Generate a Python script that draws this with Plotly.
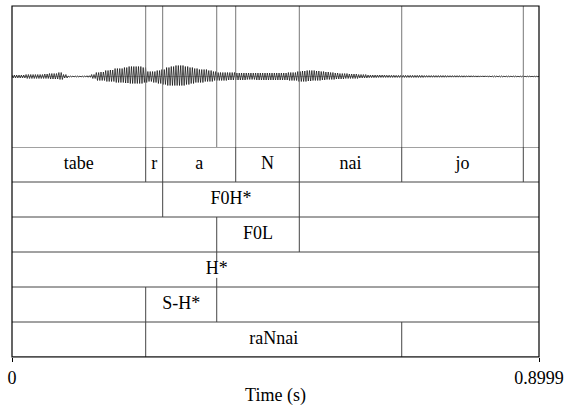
import plotly.graph_objects as go

# ---------------- data ----------------
T_END = 0.8999

# Waveform amplitude envelope (arbitrary units), sampled every 8 ms
WAVE_DT = 0.008
wave_hi = [1.5, 1.5, 1.5, 2, 2, 2, 2, 2.5, 3, 3, 4, 2, 0.5, 0.5, 0.5, 0.5, 0.8, 2, 4, 4.5,
           6, 6.5, 8, 8, 9, 10, 10, 10, 9, 5, 5, 6, 7, 9, 10, 11, 11, 10, 9, 8,
           7, 7, 6, 5, 4, 4, 4, 4, 3.5, 3.5, 3.5, 3.5, 3.5, 3.5, 3.5, 3.5, 3.5, 3.5, 3.5, 4,
           4, 5, 5.5, 6, 6, 5.5, 5, 4.5, 4, 3.5, 3, 3, 2.5, 2.5, 2, 2, 1.5, 1.5, 1.5, 1.5,
           1.3, 1.3, 1.2, 1.2, 1.2, 1.2, 1.2, 1.2, 1, 1, 1, 1, 1, 0.9, 0.9, 0.9, 0.8, 0.8, 0.8, 0.7,
           0.7, 0.7, 0.6, 0.6, 0.6, 0.5, 0.5, 0.5, 0.4, 0.4, 0.4, 0.3, 0.3]
wave_lo = [1.5, 1.5, 1.5, 2, 2, 2, 2, 2, 2.5, 2.5, 3, 1.5, 0.5, 0.5, 0.5, 0.5, 0.8, 2, 4, 4,
           5, 5, 6, 6, 6.5, 7, 7, 7, 6, 5, 6, 7, 8, 9, 9, 9, 9, 8, 7, 6,
           6, 5, 5, 4, 4, 4, 3.5, 3.5, 3.5, 3.5, 3, 3, 3.5, 3.5, 3.5, 3.5, 3.5, 3.5, 3.5, 4,
           4, 5, 5, 4.5, 4, 4, 3.5, 3, 3, 2.5, 2.5, 2, 2, 2, 1.5, 1.5, 1.2, 1.2, 1, 1,
           1, 1, 1, 1, 1, 1, 1, 1, 0.8, 0.8, 0.8, 0.8, 0.8, 0.7, 0.7, 0.7, 0.7, 0.6, 0.6, 0.6,
           0.5, 0.5, 0.5, 0.5, 0.5, 0.4, 0.4, 0.4, 0.4, 0.4, 0.3, 0.3, 0.3]
WAVE_YMAX = 70.5

# TextGrid tiers (interval tiers: boundaries + labels; point tier: times + labels)
phone_bounds = [0.0, 0.2283, 0.2573, 0.3820, 0.4906, 0.6655, 0.8731, T_END]
phone_labels = ["tabe", "r", "a", "N", "nai", "jo", ""]

f0h_bounds = [0.0, 0.2573, 0.4906, T_END]
f0h_labels = ["", "F0H*", ""]

f0l_bounds = [0.0, 0.3496, 0.4906, T_END]
f0l_labels = ["", "F0L", ""]

hstar_times = [0.3496]
hstar_labels = ["H*"]

sh_bounds = [0.0, 0.2283, 0.3496, T_END]
sh_labels = ["", "S-H*", ""]

word_bounds = [0.0, 0.2283, 0.6655, T_END]
word_labels = ["", "raNnai", ""]

tick_vals = [0, T_END]
tick_text = ["0", "0.8999"]

# ---------------- figure ----------------
FONT = "Times New Roman, Liberation Serif, serif"
FS = 18
LINE_C = "#444444"
N_TIERS = 6
TIER_FRAC = 210 / 351

fig = go.Figure()

# zero line of waveform
fig.add_trace(go.Scatter(x=[0, T_END], y=[0, 0], mode="lines",
                         line=dict(color="#999999", width=0.6),
                         xaxis="x", yaxis="y", hoverinfo="skip", showlegend=False))

# waveform drawn as dense oscillation between each sample's peak and trough
wx, wy = [], []
for i, (hi, lo) in enumerate(zip(wave_hi, wave_lo)):
    t = i * WAVE_DT
    for k in range(4):
        wx.append(t + k * WAVE_DT / 4)
        wy.append(hi if k % 2 == 0 else -lo)
fig.add_trace(go.Scatter(x=wx, y=wy, mode="lines",
                         line=dict(color="rgba(0,0,0,0.85)", width=0.8),
                         xaxis="x", yaxis="y", hoverinfo="skip", showlegend=False))

interval_tiers = [
    (0, phone_bounds, phone_labels),
    (1, f0h_bounds, f0h_labels),
    (2, f0l_bounds, f0l_labels),
    (4, sh_bounds, sh_labels),
    (5, word_bounds, word_labels),
]

# all boundaries shown through the waveform
all_b = set()
for _, b, _ in interval_tiers:
    for v in b[1:-1]:
        all_b.add(v)
for v in hstar_times:
    all_b.add(v)
bx, by = [], []
for v in sorted(all_b):
    bx += [v, v, None]
    by += [-WAVE_YMAX, WAVE_YMAX, None]
fig.add_trace(go.Scatter(x=bx, y=by, mode="lines", line=dict(color="#777777", width=1),
                         xaxis="x", yaxis="y", hoverinfo="skip", showlegend=False))

# tier horizontal lines
hx, hy = [], []
for k in range(N_TIERS + 1):
    hx += [0, T_END, None]
    hy += [k, k, None]
fig.add_trace(go.Scatter(x=hx, y=hy, mode="lines", line=dict(color=LINE_C, width=1),
                         xaxis="x", yaxis="y2", hoverinfo="skip", showlegend=False))

# interval tier boundaries and labels
vx, vy, tx, ty, tt = [], [], [], [], []
for row, bounds, labels in interval_tiers:
    top = N_TIERS - row
    bot = top - 1
    for v in bounds[1:-1]:
        vx += [v, v, None]
        vy += [bot, top, None]
    for a, b, lab in zip(bounds[:-1], bounds[1:], labels):
        if lab:
            tx.append((a + b) / 2)
            ty.append(bot + 0.5)
            tt.append(lab)

# point tier
row = 3
top = N_TIERS - row
bot = top - 1
for v, lab in zip(hstar_times, hstar_labels):
    vx += [v, v, None, v, v, None]
    vy += [top, top - 0.26, None, bot, bot + 0.26, None]
    tx.append(v)
    ty.append(bot + 0.5)
    tt.append(lab)

fig.add_trace(go.Scatter(x=vx, y=vy, mode="lines", line=dict(color=LINE_C, width=1),
                         xaxis="x", yaxis="y2", hoverinfo="skip", showlegend=False))
fig.add_trace(go.Scatter(x=tx, y=ty, text=tt, mode="text", textposition="middle center",
                         textfont=dict(family=FONT, size=FS, color="black"),
                         xaxis="x", yaxis="y2", hoverinfo="skip", showlegend=False))

fig.update_layout(
    width=567, height=406,
    margin=dict(l=12, r=28, t=6, b=49, autoexpand=False),
    paper_bgcolor="white", plot_bgcolor="white",
    font=dict(family=FONT, size=FS, color="black"),
    xaxis=dict(range=[0, T_END], anchor="y2", showgrid=False, zeroline=False,
               automargin=False,
               tickmode="array", tickvals=tick_vals, ticktext=tick_text,
               ticks="outside", ticklen=4, tickcolor="black", tickwidth=1,
               tickfont=dict(family=FONT, size=FS, color="black"),
               showline=False,
               title=dict(text="Time (s)", font=dict(family=FONT, size=FS, color="black"),
                          standoff=3)),
    yaxis=dict(domain=[TIER_FRAC, 1], range=[-WAVE_YMAX, WAVE_YMAX], anchor="x",
               automargin=False,
               showgrid=False, zeroline=False, showticklabels=False, ticks=""),
    yaxis2=dict(domain=[0, TIER_FRAC], range=[0, N_TIERS], anchor="x",
                automargin=False,
                showgrid=False, zeroline=False, showticklabels=False, ticks=""),
    shapes=[dict(type="rect", xref="paper", yref="paper", x0=0, x1=1, y0=0, y1=1,
                 line=dict(color="black", width=1.2))],
)

fig.write_html("out.html", config={"displayModeBar": False},
               post_script="document.body.style.margin='0';document.body.style.overflow='hidden';")
